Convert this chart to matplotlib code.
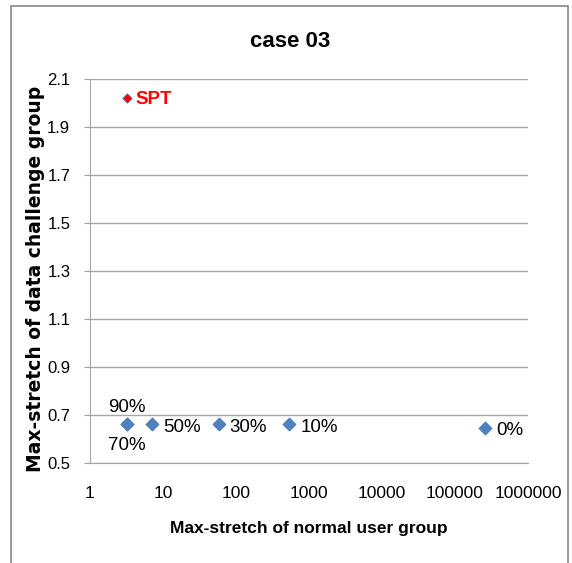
import matplotlib.pyplot as plt
from matplotlib.patches import Rectangle

# data
labels = ['90%', '70%', '50%', '30%', '10%', '0%']
normal_stretch = [3.2, 3.2, 7.2, 58, 540, 260000]
challenge_stretch = [0.66, 0.66, 0.66, 0.66, 0.66, 0.645]
spt_x = [3.2]
spt_y = [2.02]
yticks = [0.5, 0.7, 0.9, 1.1, 1.3, 1.5, 1.7, 1.9, 2.1]
xticks = [1, 10, 100, 1000, 10000, 100000, 1000000]

narrow = ['Liberation Sans', 'DejaVu Sans']

fig = plt.figure(figsize=(5.72, 5.63), dpi=100)
ax = fig.add_axes([0.157, 0.178, 0.766, 0.682])

ax.scatter(normal_stretch, challenge_stretch, marker='D', s=40, color='#4F81BD', zorder=3)
ax.scatter(spt_x, spt_y, marker='D', s=22, color='#FF0000', edgecolors='#4F5FA0', linewidths=0.6, zorder=3)

# point labels
offsets = {'90%': (0, 12, 'center'), '70%': (0, -15, 'center')}
for lab, x, y in zip(labels, normal_stretch, challenge_stretch):
    dx, dy, ha = offsets.get(lab, (8, -2, 'left'))
    ax.annotate(lab, (x, y), xytext=(dx, dy), textcoords='offset points',
                ha=ha, va='center', fontsize=13.5, family=narrow)
ax.annotate('SPT', (spt_x[0], spt_y[0]), xytext=(6, -1), textcoords='offset points',
            ha='left', va='center', fontsize=13.5, color='red', fontweight='bold', family=narrow)

ax.set_xscale('log')
ax.set_xlim(1, 1000000)
ax.set_ylim(0.5, 2.1)
ax.set_xticks(xticks)
ax.set_xticklabels([str(t) for t in xticks], family=narrow, fontsize=12.5)
ax.minorticks_off()
ax.set_yticks(yticks)
ax.set_yticklabels([f'{t:.1f}' for t in yticks], family=narrow, fontsize=12)
ax.tick_params(axis='x', length=0, pad=17)
ax.tick_params(axis='y', length=4, color='#A0A0A0', pad=10)

ax.grid(True, axis='y', color='#A6A6A6', linewidth=1)
ax.set_axisbelow(True)
for side in ['top', 'right']:
    ax.spines[side].set_visible(False)
for side in ['left', 'bottom']:
    ax.spines[side].set_color('#A6A6A6')

ax.set_xlabel('Max-stretch of normal user group', fontsize=12.5, fontweight='bold',
              family=narrow, labelpad=14)
ax.set_ylabel('Max-stretch of data challenge group', fontsize=13.5, fontweight='bold')
ax.yaxis.set_label_coords(-0.102, 0.48)
fig.text(0.508, 0.926, 'case 03', ha='center', va='center', fontsize=16, fontweight='bold',
         family=narrow)

fig.patches.append(Rectangle((0.019, -0.01), 0.974, 1.0, transform=fig.transFigure,
                             fill=False, edgecolor='#888888', linewidth=1.2))

fig.savefig('out.png', dpi=100)
